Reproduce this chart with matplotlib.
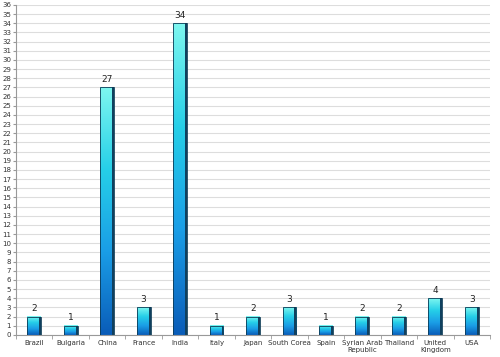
import matplotlib.pyplot as plt
import numpy as np
from matplotlib.colors import LinearSegmentedColormap

COUNTRIES = [
    "Brazil", "Bulgaria", "China", "France", "India", "Italy", "Japan",
    "South Corea", "Spain", "Syrian Arab\nRepublic", "Thailand",
    "United\nKingdom", "USA",
]
COUNTS = [2, 1, 27, 3, 34, 1, 2, 3, 1, 2, 2, 4, 3]

fig = plt.figure(figsize=(5, 3.57), dpi=100)
ax = fig.add_axes([0.032, 0.062, 0.948, 0.924])

x = np.arange(len(COUNTRIES))
width = 0.38
bars = ax.bar(x, COUNTS, width=width, color="none", edgecolor="#0b3a55",
              linewidth=0.6, zorder=3)

cmap = LinearSegmentedColormap.from_list(
    "bar", ["#0a5cb8", "#1a9de6", "#26cfe8", "#7ef7f0"])
grad = np.linspace(0, 1, 256).reshape(-1, 1)
for b in bars:
    x0, w, h = b.get_x(), b.get_width(), b.get_height()
    ax.imshow(grad, cmap=cmap, origin="lower", aspect="auto",
              extent=(x0, x0 + w, 0, h), zorder=2)
    # darker shadow on right side
    ax.bar(x0 + w * 0.93, h, width=w * 0.14, color="#10405e", zorder=2.5)
    ax.text(b.get_x() + w / 2, h + 0.4, str(int(h)), ha="center",
            va="bottom", fontsize=6.5, color="#222222", zorder=4)

ax.set_xlim(-0.5, len(COUNTRIES) - 0.5)
ax.set_ylim(0, 36)
ax.set_yticks(range(0, 37))
ax.tick_params(axis="y", labelsize=5, length=2, color="#999999", pad=1.5,
               labelcolor="#333333")
ax.set_xticks(x)
ax.set_xticklabels(COUNTRIES, fontsize=5, color="#333333", linespacing=1.1)
ax.tick_params(axis="x", length=0, pad=4)
ax.set_xticks(np.arange(-0.5, len(COUNTRIES)), minor=True)
ax.tick_params(axis="x", which="minor", length=3, color="#999999")

ax.grid(axis="y", color="#dddddd", linewidth=0.8, zorder=0)
ax.set_axisbelow(True)
for side in ("top", "right"):
    ax.spines[side].set_visible(False)
for side in ("left", "bottom"):
    ax.spines[side].set_color("#999999")

fig.savefig("out.png", dpi=100)
